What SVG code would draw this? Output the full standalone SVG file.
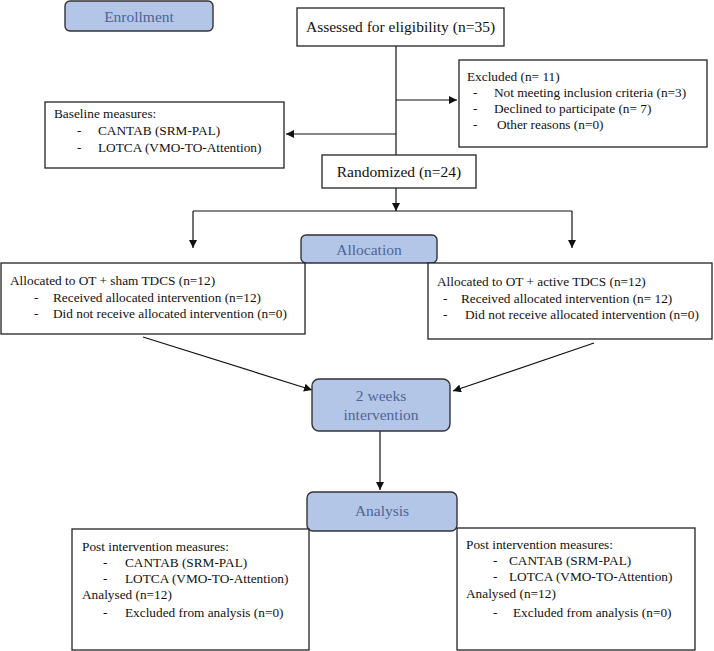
<svg xmlns="http://www.w3.org/2000/svg" width="714" height="651" viewBox="0 0 714 651">
<defs>
<style>
.box{fill:#fff;stroke:#222;stroke-width:1.3}
.stage{fill:#b4c6e7;stroke:#333;stroke-width:1.4}
.t{font-family:"Liberation Serif","Times New Roman",serif;font-size:13.3px;fill:#111}
.tb{font-family:"Liberation Serif","Times New Roman",serif;font-size:15.5px;fill:#111}
.ts{font-family:"Liberation Serif","Times New Roman",serif;font-size:15.5px;fill:#4e6496;text-anchor:middle}
.c{fill:none;stroke:#111;stroke-width:1.2}
</style>
<marker id="ah" viewBox="0 0 10 10" refX="10" refY="5" markerWidth="8" markerHeight="8" markerUnits="userSpaceOnUse" orient="auto">
<path d="M0,0 L10,5 L0,10 z" fill="#111"/>
</marker>
</defs>

<g id="connectors">
<path class="c" d="M396,46 V155"/>
<path class="c" d="M396,100 H457" marker-end="url(#ah)"/>
<path class="c" d="M396,134 H286" marker-end="url(#ah)"/>
<path class="c" d="M396,188 V211" marker-end="url(#ah)"/>
<path class="c" d="M193,211 H572"/>
<path class="c" d="M193,211 V248" marker-end="url(#ah)"/>
<path class="c" d="M572,211 V248" marker-end="url(#ah)"/>
<path class="c" d="M143,337 L312,390" marker-end="url(#ah)"/>
<path class="c" d="M594,343 L453,391" marker-end="url(#ah)"/>
<path class="c" d="M380,431 V490" marker-end="url(#ah)"/>
</g>

<g id="enrollment">
<rect class="stage" x="65" y="1" width="148" height="30" rx="5"/>
<text class="ts" x="139" y="22">Enrollment</text>
</g>

<g id="assessed">
<rect class="box" x="297" y="8" width="207" height="38"/>
<text class="tb" x="400.5" y="32" text-anchor="middle">Assessed for eligibility (n=35)</text>
</g>

<g id="excluded">
<rect class="box" x="459" y="60" width="248" height="87"/>
<text class="t" x="467" y="81">Excluded (n= 11)</text>
<text class="t" x="473" y="97">-</text><text class="t" x="494" y="97">Not meeting inclusion criteria (n=3)</text>
<text class="t" x="473" y="113">-</text><text class="t" x="494" y="113">Declined to participate (n= 7)</text>
<text class="t" x="473" y="129">-</text><text class="t" x="497" y="129">Other reasons (n=0)</text>
</g>

<g id="baseline">
<rect class="box" x="45" y="102" width="239" height="66"/>
<text class="t" x="54" y="118">Baseline measures:</text>
<text class="t" x="77" y="135">-</text><text class="t" x="98" y="135">CANTAB (SRM-PAL)</text>
<text class="t" x="77" y="152">-</text><text class="t" x="98" y="152">LOTCA (VMO-TO-Attention)</text>
</g>

<g id="randomized">
<rect class="box" x="322" y="155" width="154" height="33"/>
<text class="tb" x="399" y="177" text-anchor="middle">Randomized (n=24)</text>
</g>

<g id="allocation">
<rect class="stage" x="301" y="235" width="136" height="28" rx="5"/>
<text class="ts" x="369" y="255">Allocation</text>
</g>

<g id="alloc-sham">
<rect class="box" x="1" y="263" width="304" height="71"/>
<text class="t" x="10" y="285">Allocated to OT + sham TDCS (n=12)</text>
<text class="t" x="34" y="302">-</text><text class="t" x="53" y="302">Received allocated intervention (n=12)</text>
<text class="t" x="34" y="318">-</text><text class="t" x="53" y="318">Did not receive allocated intervention (n=0)</text>
</g>

<g id="alloc-active">
<rect class="box" x="428" y="263" width="284" height="76"/>
<text class="t" x="437" y="286">Allocated to OT + active TDCS (n=12)</text>
<text class="t" x="443" y="303">-</text><text class="t" x="461" y="303">Received allocated intervention (n= 12)</text>
<text class="t" x="443" y="319">-</text><text class="t" x="465" y="319">Did not receive allocated intervention (n=0)</text>
</g>

<g id="intervention">
<rect class="stage" x="312" y="379" width="138" height="52" rx="7"/>
<text class="ts" x="381" y="401">2 weeks</text>
<text class="ts" x="381" y="420">intervention</text>
</g>

<g id="analysis">
<rect class="stage" x="307" y="492" width="150" height="39" rx="6"/>
<text class="ts" x="382" y="516">Analysis</text>
</g>

<g id="post-sham">
<rect class="box" x="72" y="529" width="237" height="121"/>
<text class="t" x="82" y="551">Post intervention measures:</text>
<text class="t" x="103" y="567">-</text><text class="t" x="125" y="567">CANTAB (SRM-PAL)</text>
<text class="t" x="103" y="583">-</text><text class="t" x="125" y="583">LOTCA (VMO-TO-Attention)</text>
<text class="t" x="82" y="599">Analysed (n=12)</text>
<text class="t" x="103" y="617">-</text><text class="t" x="125" y="617">Excluded from analysis (n=0)</text>
</g>

<g id="post-active">
<rect class="box" x="457" y="528" width="238" height="122"/>
<text class="t" x="466" y="549">Post intervention measures:</text>
<text class="t" x="493" y="565">-</text><text class="t" x="509" y="565">CANTAB (SRM-PAL)</text>
<text class="t" x="493" y="581">-</text><text class="t" x="509" y="581">LOTCA (VMO-TO-Attention)</text>
<text class="t" x="466" y="598">Analysed (n=12)</text>
<text class="t" x="493" y="617">-</text><text class="t" x="513" y="617">Excluded from analysis (n=0)</text>
</g>
</svg>
